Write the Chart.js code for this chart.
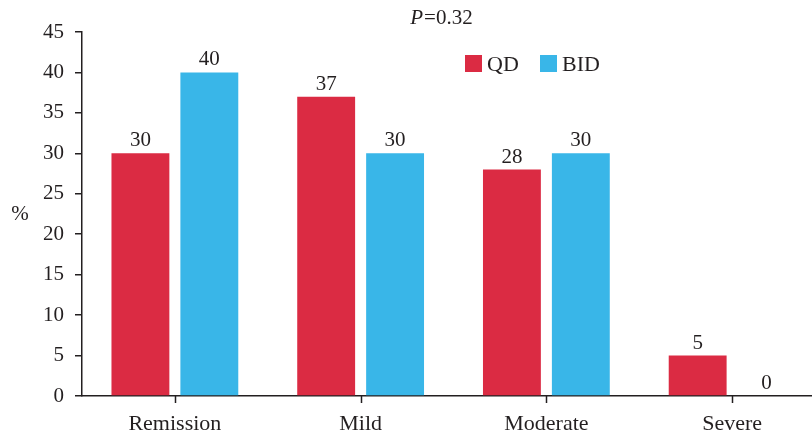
<!DOCTYPE html>
<html><head><meta charset="utf-8">
<script src="https://cdn.jsdelivr.net/npm/chart.js@4/dist/chart.umd.min.js"></script>
<style>html,body{margin:0;padding:0;overflow:hidden;background:#fff;width:812px;height:437px}#wrap{width:825px;height:437px;position:relative}</style>
</head><body><div id="wrap"><canvas id="c" width="825" height="437"></canvas></div>
<script>
const categories = ["Remission", "Mild", "Moderate", "Severe"];
const qdValues = [30, 37, 28, 5];
const bidValues = [40, 30, 30, 0];
const seriesNames = ["QD", "BID"];
const yTicks = [0, 5, 10, 15, 20, 25, 30, 35, 40, 45];
const titleText = "=0.32";

const RED = "#DB2B43", BLUE = "#39B6E8", INK = "#231f20";
const FONT = "'Liberation Serif', 'DejaVu Serif', serif";

const overlay = {
  id: "overlay",
  afterDatasetsDraw(chart) {
    const ctx = chart.ctx;
    ctx.save();
    // x tick marks at category centres
    const xs = chart.scales.x;
    ctx.strokeStyle = INK;
    ctx.lineWidth = 1.5;
    categories.forEach((c, i) => {
      const px = Math.round(xs.getPixelForValue(i)) + 0.5;
      ctx.beginPath();
      ctx.moveTo(px, xs.top);
      ctx.lineTo(px, xs.top + 7);
      ctx.stroke();
    });
    ctx.fillStyle = INK;
    ctx.font = "21px " + FONT;
    ctx.textAlign = "center";
    ctx.textBaseline = "alphabetic";
    chart.data.datasets.forEach((ds, i) => {
      chart.getDatasetMeta(i).data.forEach((bar, j) => {
        ctx.fillText(String(ds.data[j]), bar.x, bar.y - 7);
      });
    });
    // title
    ctx.textAlign = "left";
    ctx.font = "italic 21px " + FONT;
    const pW = ctx.measureText("P").width;
    ctx.font = "21px " + FONT;
    const rW = ctx.measureText(titleText).width + 2;
    const x0 = 442 - (pW + rW) / 2;
    ctx.font = "italic 21px " + FONT;
    ctx.fillText("P", x0, 24);
    ctx.font = "21px " + FONT;
    ctx.fillText(titleText, x0 + pW + 1, 24);
    // legend
    const items = [{t: seriesNames[0], c: RED, x: 465}, {t: seriesNames[1], c: BLUE, x: 540}];
    items.forEach(it => {
      ctx.fillStyle = it.c;
      ctx.fillRect(it.x, 55, 17, 17);
      ctx.fillStyle = INK;
      ctx.font = "22px " + FONT;
      ctx.fillText(it.t, it.x + 22, 71);
    });
    // y title
    ctx.textAlign = "center";
    ctx.font = "21px " + FONT;
    ctx.fillText("%", 20, 220);
    ctx.restore();
  }
};

new Chart(document.getElementById("c"), {
  type: "bar",
  data: {
    labels: categories,
    datasets: [
      {label: seriesNames[0], data: qdValues, backgroundColor: RED},
      {label: seriesNames[1], data: bidValues, backgroundColor: BLUE}
    ]
  },
  options: {
    responsive: false,
    animation: false,
    layout: {padding: {top: 32, right: 0, left: 0, bottom: 0}},
    plugins: {legend: {display: false}, tooltip: {enabled: false}, title: {display: false}},
    datasets: {bar: {categoryPercentage: 0.742, barPercentage: 0.84}},
    scales: {
      x: {
        grid: {display: false},
        border: {display: true, color: INK, width: 1.5},
        ticks: {color: INK, font: {family: FONT, size: 22}, padding: 7},
        afterFit(s) { s.height = 41; }
      },
      y: {
        min: 0, max: 45,
        afterBuildTicks(s) { s.ticks = yTicks.map(v => ({value: v})); },
        grid: {display: true, drawOnChartArea: false, drawTicks: true, tickLength: 7, color: INK, lineWidth: 1.5},
        border: {display: true, color: INK, width: 1.5},
        ticks: {color: INK, font: {family: FONT, size: 21}, padding: 11},
        afterFit(s) { s.width = 82; }
      }
    }
  },
  plugins: [overlay]
});
</script>
</body></html>
